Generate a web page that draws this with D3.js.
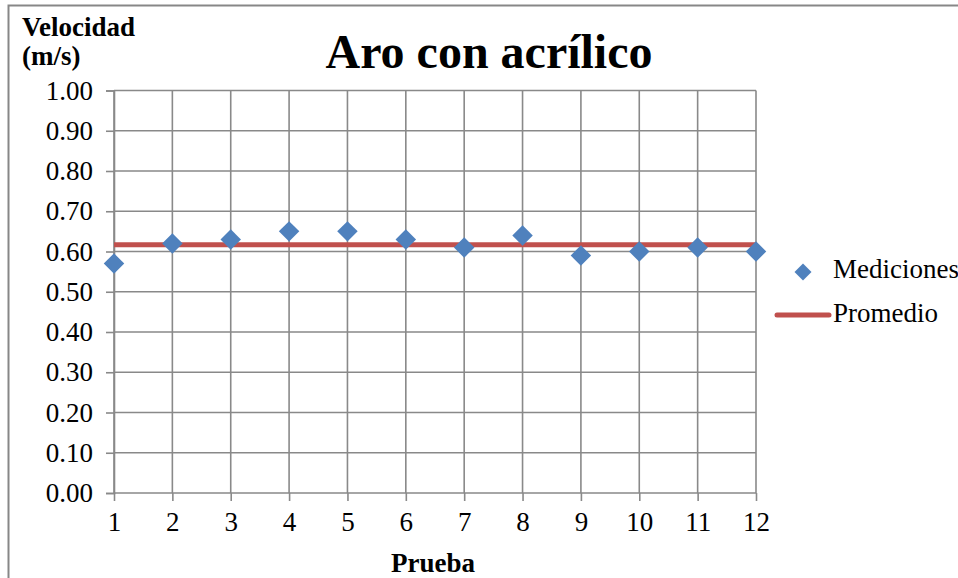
<!DOCTYPE html>
<html>
<head>
<meta charset="utf-8">
<script src="https://cdn.jsdelivr.net/npm/d3@7"></script>
<style>
  html, body { margin: 0; padding: 0; background: #fff; }
  svg { display: block; }
  svg text { font-family: "Liberation Serif", "Times New Roman", Times, serif; fill: #000; }
</style>
</head>
<body>
<svg id="chart" width="958" height="578"></svg>
<script>
const pruebas = [1, 2, 3, 4, 5, 6, 7, 8, 9, 10, 11, 12];
const mediciones = [0.57, 0.62, 0.63, 0.65, 0.65, 0.63, 0.61, 0.64, 0.59, 0.60, 0.61, 0.60];
const promedio = 0.6167;
const yTicks = [0, 0.1, 0.2, 0.3, 0.4, 0.5, 0.6, 0.7, 0.8, 0.9, 1.0];
const titleText = "Aro con acrílico";
const yTitleLines = ["Velocidad", "(m/s)"];
const xTitleText = "Prueba";
const legendLabels = ["Mediciones", "Promedio"];

const svg = d3.select("#chart");
const gridColor = "#898989";
const blue = "#4F81BD";
const red = "#C0504D";
const FS = 27;

// outer frame (only top and left visible)
svg.append("rect")
  .attr("x", 8.5).attr("y", 5.5)
  .attr("width", 1000).attr("height", 700)
  .attr("fill", "none").attr("stroke", "#878787").attr("stroke-width", 2);

const x = d3.scaleLinear().domain([1, 12]).range([114, 756]);
const y = d3.scaleLinear().domain([0, 1]).range([493, 90.5]);

// y axis
const yAxis = d3.axisLeft(y).tickValues(yTicks).tickSize(8)
  .tickFormat(d3.format(".2f")).tickPadding(13);
const gy = svg.append("g").attr("transform", "translate(114,0)").call(yAxis);
gy.attr("font-family", null).attr("font-size", null);
gy.select(".domain").attr("stroke", gridColor).attr("stroke-width", 1.6);
gy.selectAll(".tick line").attr("stroke", gridColor).attr("stroke-width", 1.6);
gy.selectAll(".tick text").attr("font-size", FS).attr("fill", "#000");

// horizontal grid
svg.append("g").selectAll("line").data(yTicks).join("line")
  .attr("x1", x(1)).attr("x2", x(12))
  .attr("y1", d => y(d)).attr("y2", d => y(d))
  .attr("stroke", gridColor).attr("stroke-width", 1.6);

// x axis
const xAxis = d3.axisBottom(x).tickValues(pruebas).tickSize(8)
  .tickFormat(d3.format("d")).tickPadding(11);
const gx = svg.append("g").attr("transform", `translate(0,${y(0)})`).call(xAxis);
gx.attr("font-family", null).attr("font-size", null);
gx.select(".domain").remove();
gx.selectAll(".tick line").attr("stroke", gridColor).attr("stroke-width", 1.6);
gx.selectAll(".tick text").attr("font-size", FS).attr("fill", "#000");

// vertical grid
svg.append("g").selectAll("line").data(pruebas).join("line")
  .attr("x1", d => x(d)).attr("x2", d => x(d))
  .attr("y1", y(1)).attr("y2", y(0))
  .attr("stroke", gridColor).attr("stroke-width", 1.6);

// average line
svg.append("line")
  .attr("x1", x(1)).attr("x2", x(12))
  .attr("y1", y(promedio)).attr("y2", y(promedio))
  .attr("stroke", red).attr("stroke-width", 5);

// measurements (diamonds)
svg.append("g").selectAll("path").data(pruebas).join("path")
  .attr("d", d3.symbol().type(d3.symbolSquare).size(210))
  .attr("transform", (d, i) => `translate(${x(d)},${y(mediciones[i])}) rotate(45)`)
  .attr("fill", blue);

// title
svg.append("text").attr("x", 489).attr("y", 68)
  .attr("text-anchor", "middle").attr("font-size", 48).attr("font-weight", "bold")
  .text(titleText);

// y title
svg.append("text").attr("x", 22).attr("y", 36)
  .attr("font-size", FS).attr("font-weight", "bold").text(yTitleLines[0]);
svg.append("text").attr("x", 22).attr("y", 65)
  .attr("font-size", FS).attr("font-weight", "bold").text(yTitleLines[1]);

// x title
svg.append("text").attr("x", 433).attr("y", 572)
  .attr("text-anchor", "middle").attr("font-size", FS).attr("font-weight", "bold")
  .text(xTitleText);

// legend
svg.append("path")
  .attr("d", d3.symbol().type(d3.symbolSquare).size(144))
  .attr("transform", "translate(803,272) rotate(45)")
  .attr("fill", blue);
svg.append("text").attr("x", 833).attr("y", 278).attr("font-size", FS).text(legendLabels[0]);
svg.append("line").attr("x1", 777).attr("x2", 829).attr("y1", 315).attr("y2", 315)
  .attr("stroke", red).attr("stroke-width", 5).attr("stroke-linecap", "round");
svg.append("text").attr("x", 833).attr("y", 322).attr("font-size", FS).text(legendLabels[1]);
</script>
</body>
</html>
